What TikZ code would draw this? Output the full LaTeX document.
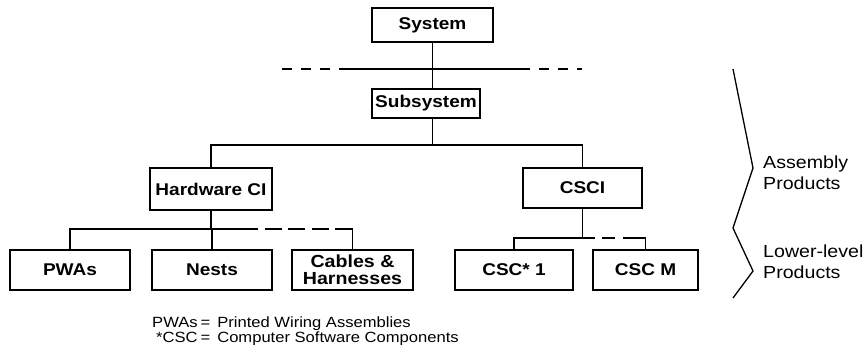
\documentclass[tikz,border=0pt]{standalone}
\usepackage{fontspec}
\setmainfont{Liberation Sans}[FakeStretch=1.12]
\begin{document}
\begin{tikzpicture}[x=1pt,y=-1pt,
  box/.style={draw, line width=1.5pt, inner sep=0pt, align=center,
    font=\bfseries\fontsize{17}{17}\selectfont},
  wire/.style={line width=1.3pt},
  dashwire/.style={line width=1.3pt, dash pattern=on 10pt off 9pt},
  sidetext/.style={anchor=base west, inner sep=0pt, font=\fontsize{17.5}{21}\selectfont},
  note/.style={anchor=base west, inner sep=0pt, font=\fontsize{14.8}{15}\selectfont}]
\useasboundingbox (0,0) rectangle (865,351);

% boxes
\node[box, minimum width=121pt, minimum height=34pt] (sys)  at (432.5,25)  {System};
\node[box, minimum width=108pt, minimum height=29pt] (sub)  at (426,103.5) {Subsystem};
\node[box, minimum width=122pt, minimum height=42pt] (hw)   at (211,189)   {Hardware CI};
\node[box, minimum width=119pt, minimum height=40pt] (csci) at (582.5,188) {CSCI};
\node[box, minimum width=120pt, minimum height=40pt] (pwa)  at (70,270)    {PWAs};
\node[box, minimum width=120pt, minimum height=40pt] (nest) at (212,270)   {Nests};
\node[box, minimum width=121pt, minimum height=40pt, font=\bfseries\fontsize{17.5}{17}\selectfont]
     (cab)  at (352.5,270) {Cables \&\\Harnesses};
\node[box, minimum width=118pt, minimum height=40pt] (csc1) at (514,270)   {CSC* 1};
\node[box, minimum width=105pt, minimum height=40pt] (cscm) at (645.5,270) {CSC M};

% system level boundary
\coordinate (bl0) at (282,69);
\coordinate (bl1) at (343,69);
\coordinate (bl2) at (520,69);
\coordinate (bl3) at (582,69);
\draw[dashwire] (bl0) -- (bl1);
\draw[wire] (bl1) -- (bl2);
\draw[dashwire] (bl2) -- (bl3);

% system -> subsystem -> configuration items
\draw[wire] (sys.south) -- (sys.south |- sub.north);
\coordinate (top) at (432.5,145);
\draw[wire] (sub.south -| top) -- (top);
\draw[wire] (hw.north) |- (top) -| (csci.north);

% hardware breakdown
\coordinate (hwbus) at (211,229);
\coordinate (hwd1) at (241,229);
\coordinate (hwd2) at (335,229);
\draw[wire] (hw.south) -- (hwbus);
\draw[wire] (pwa.north) |- (hwbus) -- (hwd1);
\draw[wire] (hwbus -| nest.north) -- (nest.north);
\draw[line width=1.3pt, dash pattern=on 17pt off 6.5pt] (hwd1) -- (hwd2);
\draw[wire] (hwd2) -| (cab.north);

% software breakdown
\coordinate (swbus) at (582.5,238);
\coordinate (swd1) at (595,238);
\coordinate (swd2) at (602,238);
\coordinate (swd3) at (615,238);
\coordinate (swd4) at (623,238);
\draw[wire] (csci.south) -- (swbus);
\draw[wire] (csc1.north) |- (swbus) -- (swd1);
\draw[wire] (swd2) -- (swd3);
\draw[wire] (swd4) -| (cscm.north);

% level brackets
\draw[line width=1.3pt, line join=miter] (733,69) -- (753,168) -- (733,228) -- (753,271) -- (733,298);
\node[sidetext] (asm) at (763,168) {\begin{tabular}[t]{@{}l@{}}Assembly\\Products\end{tabular}};
\node[sidetext] (low) at (763,257) {\begin{tabular}[t]{@{}l@{}}Lower-level\\Products\end{tabular}};

% legend
\node[note] (leg) at (152,327) {\begin{tabular}[t]{@{}r@{\hspace{3pt}=\hspace{7pt}}l@{}}
  PWAs & Printed Wiring Assemblies\\
  \relax *CSC & Computer Software Components
\end{tabular}};
\end{tikzpicture}
\end{document}
